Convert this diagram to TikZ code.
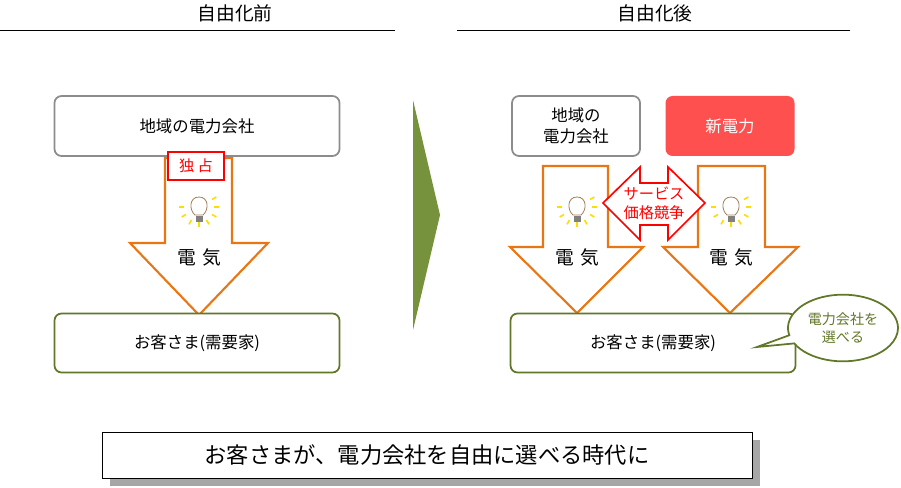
\documentclass[tikz,border=0pt]{standalone}
\usepackage{fontspec}
\setmainfont{Noto Sans CJK JP}
\usetikzlibrary{shapes.callouts,calc}
\definecolor{olive}{RGB}{96,120,40}
\definecolor{orng}{RGB}{232,118,20}
\definecolor{newred}{RGB}{255,80,80}
\definecolor{chev}{RGB}{118,146,60}
\tikzset{
  grayboxst/.style={draw=gray!90, line width=1.5pt, rounded corners=6pt, fill=white, align=center, font=\fontsize{14}{18}\selectfont, inner sep=0pt},
  custboxst/.style={draw=olive, line width=1.5pt, rounded corners=6pt, fill=white, font=\fontsize{14}{18}\selectfont, minimum width=8.55cm, minimum height=1.77cm},
  flowst/.style={draw=orng, line width=1.8pt, fill=white},
  titlest/.style={font=\fontsize{16}{18}\selectfont},
  elecst/.style={font=\fontsize{16}{18}\selectfont},
}
\newcommand{\bulb}[1]{%
  \begin{scope}[shift={#1}]
    \draw[fill=white, draw=gray!70!orange, line width=0.7pt] (-4,2) .. controls (-10,-3) and (-10,-16) .. (0,-16) .. controls (10,-16) and (10,-3) .. (4,2) -- cycle;
    \fill[gray] (-3.5,3) rectangle (3.5,9);
    \foreach \a in {0,30,...,180,-30}
      \draw[yellow!80!orange, line width=1.4pt] ($(0,-6)+(\a:15)$) -- ($(0,-6)+(\a:20)$);
  \end{scope}}
\begin{document}
\begin{tikzpicture}[x=0.03cm, y=-0.03cm]
  \useasboundingbox (0,0) rectangle (901,488);
  % titles
  \node[titlest] (tbefore) at (235,13) {自由化前};
  \node[titlest] (tafter) at (655,13) {自由化後};
  \draw[line width=0.8pt] (0,30) -- (395,30);
  \draw[line width=0.8pt] (457,30) -- (850,30);

  % before
  \draw[flowst] (165,158) -- (232,158) -- (232,243) -- (268,243) -- (199,315) -- (130,243) -- (165,243) -- cycle;
  \node[grayboxst, minimum width=8.55cm, minimum height=1.8cm] (local) at (197,126) {地域の電力会社};
  \node[draw=red, line width=1.2pt, fill=white, text=red, font=\fontsize{13}{15}\selectfont, minimum width=1.68cm, minimum height=0.84cm, inner sep=0pt] (mono) at (196,166) {独 占};
  \bulb{(199,213)}
  \node[elecst] (elec1) at (199,257) {電\,\,気};
  \node[custboxst] (cust1) at (197,343) {お客さま(需要家)};

  % chevron
  \fill[chev] (413,100) -- (440,215) -- (413,330) -- cycle;

  % after
  \draw[flowst] (543,166) -- (608,166) -- (608,247) -- (643,247) -- (577,313) -- (510,247) -- (543,247) -- cycle;
  \draw[flowst] (698,166) -- (765,166) -- (765,247) -- (798,247) -- (730,313) -- (663,247) -- (698,247) -- cycle;
  \node[grayboxst, minimum width=3.84cm, minimum height=1.8cm] (local2) at (576,126) {地域の\\電力会社};
  \node[fill=newred, rounded corners=6pt, text=white, font=\fontsize{14}{18}\selectfont, minimum width=3.87cm, minimum height=1.8cm] (newpow) at (730,126) {新電力};
  \draw[draw=red, line width=1.4pt, fill=white] (603,203) -- (640,167) -- (640,183) -- (668,183) -- (668,167) -- (705,203) -- (668,240) -- (668,225) -- (640,225) -- (640,240) -- cycle;
  \node[text=red, align=center, font=\fontsize{13}{16}\selectfont] (compete) at (654,203) {サービス\\価格競争};
  \bulb{(577,213)}
  \bulb{(731,213)}
  \node[elecst] (elec2) at (577,257) {電\,\,気};
  \node[elecst] (elec3) at (731,257) {電\,\,気};
  \node[custboxst] (cust2) at (653,343) {お客さま(需要家)};
  \node[ellipse callout, draw=olive, line width=1.5pt, fill=white, text=olive, align=center, font=\fontsize{12}{15}\selectfont, minimum width=3.3cm, minimum height=2cm, inner sep=0pt, callout absolute pointer={(757,347)}] (choose) at (843,328) {電力会社を\\選べる};

  % bottom
  \fill[gray!70] (110,440) rectangle (760,486);
  \node[draw=black, line width=0.8pt, fill=white, font=\fontsize{19}{22}\selectfont, minimum width=19.5cm, minimum height=1.38cm] (era) at (427,455) {お客さまが、電力会社を自由に選べる時代に};
\end{tikzpicture}
\end{document}
